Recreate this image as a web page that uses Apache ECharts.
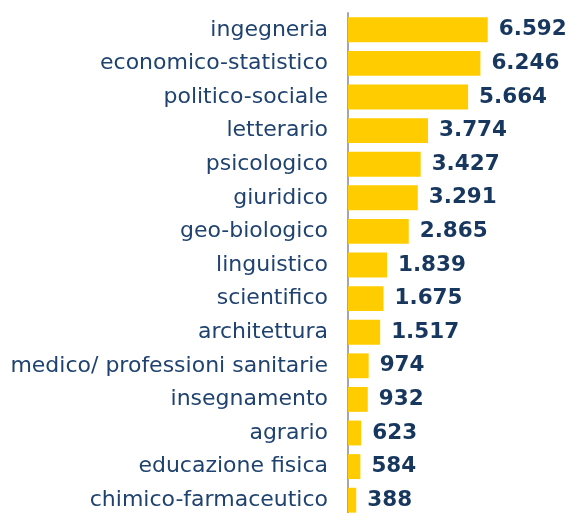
<!DOCTYPE html>
<html>
<head>
<meta charset="utf-8">
<script src="https://cdn.jsdelivr.net/npm/echarts@6/dist/echarts.min.js"></script>
<style>
  html, body { margin: 0; padding: 0; background: #fff; overflow: hidden; }
  #chart { width: 569px; height: 520px; }
</style>
</head>
<body>
<div id="chart"></div>
<script>
// categorie (dall'alto in basso)
var categories = [
  'ingegneria', 'economico-statistico', 'politico-sociale', 'letterario',
  'psicologico', 'giuridico', 'geo-biologico', 'linguistico', 'scientifico',
  'architettura', 'medico/ professioni sanitarie', 'insegnamento', 'agrario',
  'educazione fisica', 'chimico-farmaceutico'
];
var values = [6592, 6246, 5664, 3774, 3427, 3291, 2865, 1839, 1675, 1517, 974, 932, 623, 584, 388];

function fmtIt(v) {
  return String(v).replace(/\B(?=(\d{3})+(?!\d))/g, '.');
}

var chart = echarts.init(document.getElementById('chart'));
chart.setOption({
  animation: false,
  grid: { left: 348, width: 212, top: 13, height: 504, containLabel: false },
  xAxis: {
    type: 'value',
    min: 0,
    max: 10000,
    show: false
  },
  yAxis: {
    type: 'category',
    inverse: true,
    data: categories,
    axisLine: { show: true, lineStyle: { color: '#a6a6a6', width: 2 } },
    axisTick: { show: false },
    axisLabel: {
      color: '#1f426f',
      fontFamily: 'DejaVu Sans',
      fontSize: 22,
      margin: 20
    }
  },
  series: [{
    type: 'bar',
    data: values,
    barCategoryGap: '26%',
    itemStyle: { color: '#ffcc00' },
    label: {
      show: true,
      position: 'right',
      distance: 11,
      color: '#17375e',
      fontFamily: 'DejaVu Sans',
      fontWeight: 'bold',
      fontSize: 21.5,
      formatter: function (p) { return fmtIt(p.value); }
    }
  }]
});
</script>
</body>
</html>
